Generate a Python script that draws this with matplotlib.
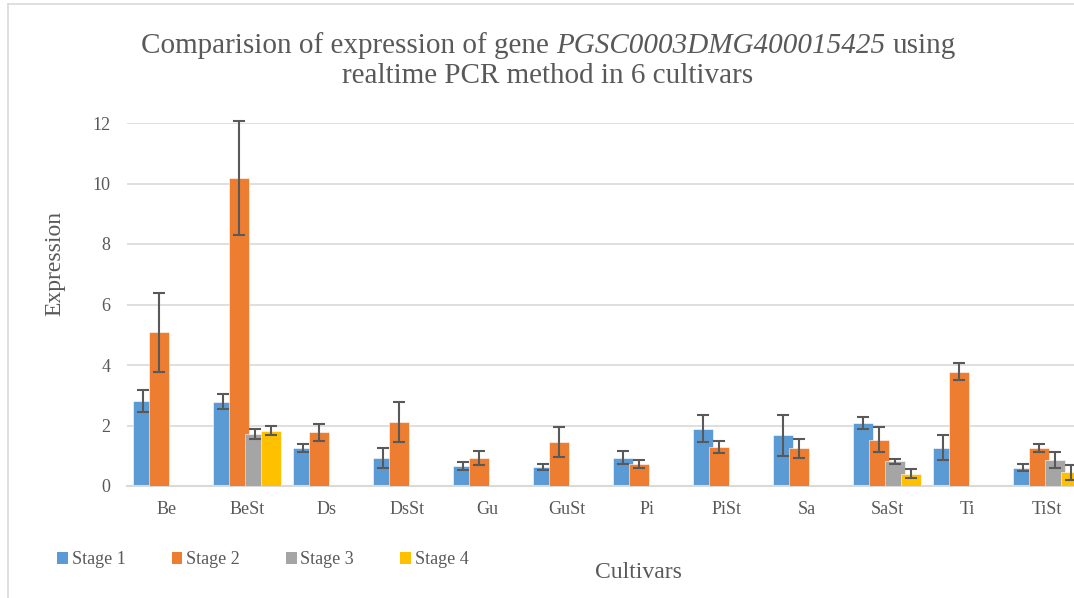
import numpy as np
import matplotlib
matplotlib.use("Agg")
import matplotlib.pyplot as plt
from matplotlib.lines import Line2D
from matplotlib.patches import Patch

# Expression per cultivar and stage, with standard errors
cultivars = ["Be", "BeSt", "Ds", "DsSt", "Gu", "GuSt", "Pi", "PiSt", "Sa", "SaSt", "Ti", "TiSt"]
stage_names = ["Stage 1", "Stage 2", "Stage 3", "Stage 4"]

nan = np.nan
stage1 = [2.80, 2.78, 1.26, 0.93, 0.65, 0.63, 0.94, 1.90, 1.67, 2.08, 1.27, 0.61]
stage1_err = [0.36, 0.25, 0.13, 0.33, 0.13, 0.10, 0.22, 0.45, 0.69, 0.20, 0.41, 0.13]
stage2 = [5.08, 10.17, 1.77, 2.12, 0.92, 1.45, 0.73, 1.29, 1.24, 1.53, 3.78, 1.25]
stage2_err = [1.31, 1.88, 0.29, 0.67, 0.24, 0.49, 0.12, 0.20, 0.30, 0.41, 0.28, 0.14]
stage3 = [nan, 1.73, nan, nan, nan, nan, nan, nan, nan, 0.81, nan, 0.87]
stage3_err = [nan, 0.17, nan, nan, nan, nan, nan, nan, nan, 0.08, nan, 0.27]
stage4 = [nan, 1.82, nan, nan, nan, nan, nan, nan, nan, 0.40, nan, 0.45]
stage4_err = [nan, 0.15, nan, nan, nan, nan, nan, nan, nan, 0.15, nan, 0.26]

COLORS = ["#5B9BD5", "#ED7D31", "#A5A5A5", "#FFC000"]
TEXT_COLOR = "#595959"
GRID_COLOR = "#D9D9D9"
ERR_COLOR = "#595959"
SERIF = "Liberation Serif"

W, H, DPI = 1074, 598, 100


def px_x(x):
    return x / W


def px_y(y):
    return 1 - y / H


def draw_title(fig, pieces, cx, baseline, size):
    """Lay out a line of text pieces with mixed styles, centered on cx."""
    renderer = fig.canvas.get_renderer()
    texts = []
    for s, style in pieces:
        t = fig.text(0, px_y(baseline), s, fontsize=size, family=SERIF, style=style,
                     color=TEXT_COLOR, va="baseline", ha="left")
        texts.append(t)
    space = size * DPI / 72 * 0.25
    widths = [t.get_window_extent(renderer).width for t in texts]
    total = sum(widths) + space * (len(texts) - 1)
    x = cx - total / 2
    for t, w in zip(texts, widths):
        t.set_x(px_x(x))
        x += w + space


def main():
    fig = plt.figure(figsize=(W / DPI, H / DPI), dpi=DPI)
    ax = fig.add_axes([px_x(127), px_y(486), 960 / W, 363 / H])

    stages = [stage1, stage2, stage3, stage4]
    errors = [stage1_err, stage2_err, stage3_err, stage4_err]
    x = np.arange(len(cultivars))
    width = 0.25
    step = 0.204

    for k, (vals, errs) in enumerate(zip(stages, errors)):
        pos = x + (k - 1.5) * step
        ax.bar(pos, vals, width, color=COLORS[k], edgecolor="white",
               linewidth=0.4, zorder=2 + k, label=stage_names[k])
        eb = ax.errorbar(pos, vals, yerr=errs, fmt="none", ecolor=ERR_COLOR,
                         elinewidth=1.5, capsize=4.3, capthick=1.5, zorder=10)
        for art in eb.lines[1] + eb.lines[2]:
            art.set_clip_on(False)

    ax.set_xlim(-0.5, len(cultivars) - 0.5)
    ax.set_ylim(0, 12)
    ax.set_yticks(range(0, 13, 2))
    ax.set_xticks(x)
    ax.set_xticklabels(cultivars)

    ax.yaxis.grid(True, color=GRID_COLOR, linewidth=1.2, zorder=0)
    ax.set_axisbelow(True)
    for side in ["top", "right", "left"]:
        ax.spines[side].set_visible(False)
    ax.spines["bottom"].set_color(GRID_COLOR)
    ax.spines["bottom"].set_linewidth(1.5)
    ax.tick_params(axis="both", length=0, labelsize=13, labelcolor=TEXT_COLOR)
    ax.tick_params(axis="x", pad=11)
    ax.tick_params(axis="y", pad=12)
    for lbl in ax.get_xticklabels() + ax.get_yticklabels():
        lbl.set_family(SERIF)

    # chart area border
    fig.add_artist(Line2D([px_x(8), px_x(8)], [px_y(4), 0], color=GRID_COLOR,
                          linewidth=1.2, transform=fig.transFigure))
    fig.add_artist(Line2D([px_x(8), 1], [px_y(4), px_y(4)], color=GRID_COLOR,
                          linewidth=1.2, transform=fig.transFigure))

    draw_title(fig, [("Comparision of expression of gene", "normal"),
                     ("PGSC0003DMG400015425", "italic"),
                     ("using", "normal")], 548, 52.7, 21)
    draw_title(fig, [("realtime PCR method in 6 cultivars", "normal")], 548, 83.3, 21)

    fig.text(px_x(55), px_y(263), "Expression", rotation=90, fontsize=17, family=SERIF,
             color=TEXT_COLOR, ha="center", va="center")
    fig.text(px_x(638), px_y(572), "Cultivars", fontsize=17, family=SERIF,
             color=TEXT_COLOR, ha="center", va="center")

    handles = [Patch(facecolor=c, edgecolor="none") for c in COLORS]
    fig.legend(handles, stage_names, loc="center left",
               bbox_to_anchor=(px_x(50), px_y(560)), ncol=4, frameon=False,
               handlelength=0.6, handleheight=0.6, handletextpad=0.2,
               columnspacing=2.55, borderaxespad=0,
               prop={"family": SERIF, "size": 13}, labelcolor=TEXT_COLOR)

    fig.savefig("out.png", dpi=DPI)
    plt.close(fig)


if __name__ == "__main__":
    main()
